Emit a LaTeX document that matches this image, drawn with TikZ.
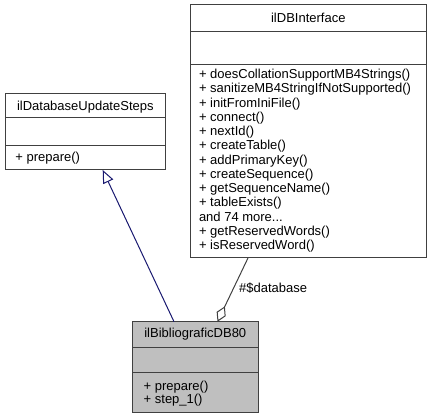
\documentclass[tikz,border=0pt]{standalone}
\usepackage{fontspec}
\setmainfont{Liberation Sans}
\usetikzlibrary{arrows.meta,calc}
\definecolor{edgegray}{HTML}{404040}
\definecolor{navyline}{HTML}{191970}
\definecolor{hilite}{HTML}{BFBFBF}
\newcommand\moreitems{and 74 more...}
\tikzset{
  cls/.style={draw=edgegray, line width=1pt, fill=white, inner sep=0pt, outer sep=0pt, anchor=north west},
  sep/.style={draw=edgegray, line width=1pt},
  ttl/.style={font=\fontsize{13}{15}\selectfont, inner sep=0pt, anchor=base},
  op/.style={font=\fontsize{13}{15}\selectfont, inner sep=0pt, anchor=base west},
  inherit/.style={draw=navyline, line width=1pt, -{Triangle[open,length=13pt,width=11pt]}},
  aggr/.style={draw=edgegray, line width=1pt, -{Diamond[open,length=17pt,width=10pt]}},
}
\begin{document}
\begin{tikzpicture}[x=1pt,y=-1pt]
\useasboundingbox (0,0) rectangle (431,419);
% ilDatabaseUpdateSteps
\node[cls, minimum width=160.7pt, minimum height=76.5pt] (steps) at (5,93.5) {};
\draw[sep] (steps.west |- 0,118) -- (steps.east |- 0,118);
\draw[sep] (steps.west |- 0,145.7) -- (steps.east |- 0,145.7);
\node[ttl] (stepsT) at (85.3,110.4) {ilDatabaseUpdateSteps};
\node[op] (stepsO) at (15.2,161.4) {+ prepare()};
% ilDBInterface
\node[cls, minimum width=236.7pt, minimum height=253pt] (dbi) at (190,5) {};
\draw[sep] (dbi.west |- 0,32) -- (dbi.east |- 0,32);
\draw[sep] (dbi.west |- 0,65) -- (dbi.east |- 0,65);
\node[ttl] (dbiT) at (308.3,23) {ilDBInterface};
\foreach \t [count=\i from 0] in {+ doesCollationSupportMB4Strings(), + sanitizeMB4StringIfNotSupported(), + initFromIniFile(), + connect(), + nextId(), + createTable(), + addPrimaryKey(), + createSequence(), + getSequenceName(), + tableExists(), \moreitems, + getReservedWords(), + isReservedWord()}
  \node[op] (dbiO\i) at (198.8,78.7+14.25*\i) {\t};
% ilBibliograficDB80
\node[cls, fill=hilite, minimum width=125.5pt, minimum height=90.8pt] (bib) at (132.5,321.7) {};
\draw[sep] (bib.west |- 0,347.2) -- (bib.east |- 0,347.2);
\draw[sep] (bib.west |- 0,372.3) -- (bib.east |- 0,372.3);
\node[ttl] (bibT) at (195.3,338) {ilBibliograficDB80};
\node[op] (bibO1) at (143.5,390.2) {+ prepare()};
\node[op] (bibO2) at (143.5,403.2) {+ step\_1()};
% connectors
\draw[inherit] ($(bib.north west)+(41.5,0)$) -- ($(steps.south west)+(97.7,0)$);
\draw[aggr] ($(dbi.south west)+(58,0)$) -- ($(bib.north west)+(85,0)$);
\node[op] (lbl) at (239,293) {\#\$database};
\end{tikzpicture}
\end{document}
